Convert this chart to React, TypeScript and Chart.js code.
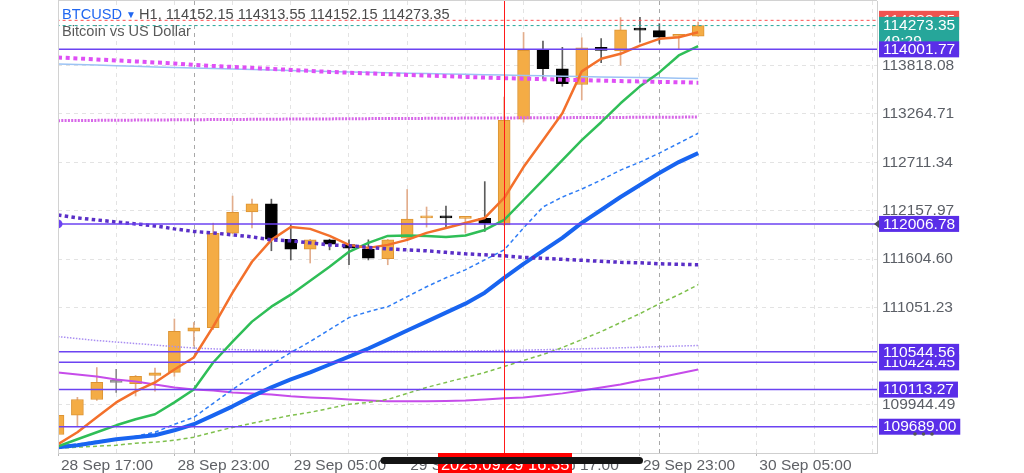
import React, { useEffect, useRef } from 'react';
import { Chart, registerables } from 'chart.js';

Chart.register(...registerables);

const FONT = '"Liberation Sans", Arial, Helvetica, sans-serif';

// H1 bars, 28 Sep 17:00 -> 30 Sep 02:00
const barOpen = [109600, 109820, 110000, 110195, 110180, 110275, 110310, 110780, 110820, 111900, 112145, 112235, 111830, 111718, 111825, 111770, 111720, 111610, 111845, 112075, 112080, 112070, 112070, 111995, 113205, 113995, 113780, 113600, 114025, 113985, 114225, 114215, 114150, 114152.15];
const barHigh = [109830, 110025, 110365, 110345, 110275, 110360, 110920, 110880, 112015, 112325, 112290, 112290, 112000, 111830, 111832, 111825, 111825, 111830, 112400, 112200, 112210, 112080, 112490, 113457, 114195, 114095, 114025, 114135, 114125, 114365, 114368, 114295, 114170, 114313.55];
const barLow = [109590, 109695, 109990, 110080, 110040, 110095, 110265, 110610, 110800, 111895, 111960, 111700, 111595, 111560, 111710, 111540, 111595, 111540, 111825, 111970, 111975, 111905, 111920, 111990, 113170, 113665, 113580, 113425, 113850, 113820, 114085, 114070, 114010, 114152.15];
const barClose = [109820, 110000, 110195, 110195, 110265, 110305, 110780, 110818, 111900, 112140, 112235, 111832, 111718, 111825, 111775, 111730, 111615, 111825, 112063, 112080, 112075, 112075, 112012, 113190, 113990, 113780, 113610, 114020, 113990, 114225, 114222, 114140, 114155, 114273.35];

// indicators
const emaOrange = [109489, 109626, 109796, 109967, 110093, 110195, 110343, 110480, 110833, 111221, 111574, 111824, 111972, 111950, 111870, 111767, 111733, 111767, 111824, 111904, 111961, 112018, 112075, 112303, 112656, 112964, 113271, 113750, 113894, 113951, 114045, 114122, 114140, 114197];
const emaGreen = [109466, 109546, 109626, 109705, 109774, 109831, 109967, 110115, 110423, 110662, 110890, 111061, 111198, 111357, 111517, 111688, 111790, 111870, 111875, 111870, 111858, 111875, 111938, 112052, 112280, 112508, 112736, 112964, 113169, 113385, 113579, 113738, 113932, 114038];
const maBlueDashed = [109466, 109489, 109523, 109546, 109580, 109626, 109717, 109796, 109956, 110115, 110264, 110400, 110537, 110662, 110799, 110936, 111004, 111061, 111175, 111289, 111391, 111482, 111596, 111710, 111961, 112200, 112314, 112405, 112508, 112622, 112713, 112816, 112929, 113043];
const maBlueThick = [109455, 109477, 109512, 109546, 109569, 109591, 109648, 109717, 109819, 109922, 110036, 110138, 110229, 110309, 110400, 110491, 110583, 110685, 110788, 110890, 110993, 111095, 111221, 111391, 111551, 111699, 111847, 112018, 112166, 112314, 112451, 112588, 112713, 112816];
const maGreenDashed = [109443, 109455, 109466, 109477, 109500, 109512, 109534, 109569, 109626, 109682, 109728, 109774, 109819, 109853, 109899, 109945, 109967, 110001, 110070, 110138, 110195, 110252, 110309, 110377, 110446, 110514, 110594, 110685, 110776, 110879, 110981, 111095, 111198, 111312];
const maMagenta = [110309, 110286, 110264, 110229, 110207, 110172, 110138, 110115, 110104, 110081, 110070, 110058, 110036, 110024, 110013, 110001, 109990, 109979, 109979, 109979, 109984, 109990, 110001, 110013, 110024, 110047, 110070, 110104, 110138, 110172, 110218, 110252, 110298, 110343];
const dotPurple = [112109, 112075, 112052, 112029, 112007, 111984, 111950, 111921, 111904, 111881, 111859, 111824, 111813, 111790, 111767, 111756, 111739, 111722, 111710, 111699, 111682, 111665, 111653, 111642, 111625, 111614, 111602, 111591, 111579, 111568, 111562, 111551, 111545, 111540];
const dotMagenta = [113909, 113898, 113886, 113875, 113864, 113852, 113841, 113824, 113812, 113801, 113790, 113778, 113767, 113755, 113744, 113735, 113727, 113718, 113710, 113702, 113695, 113687, 113679, 113672, 113667, 113661, 113655, 113649, 113645, 113639, 113635, 113630, 113626, 113621];
const maLightBlue = [113835, 113828, 113822, 113815, 113808, 113801, 113795, 113789, 113783, 113777, 113771, 113766, 113760, 113754, 113750, 113744, 113740, 113735, 113730, 113726, 113721, 113717, 113712, 113708, 113703, 113699, 113695, 113691, 113687, 113683, 113679, 113676, 113672, 113670];
const dotPink = [113187, 113188, 113190, 113192, 113193, 113195, 113196, 113198, 113199, 113200, 113202, 113203, 113205, 113206, 113207, 113208, 113210, 113211, 113212, 113213, 113215, 113216, 113217, 113218, 113219, 113220, 113221, 113222, 113223, 113224, 113225, 113226, 113227, 113228];
const dotLavender = [110719, 110696, 110674, 110657, 110640, 110622, 110605, 110588, 110579, 110571, 110565, 110560, 110556, 110553, 110551, 110548, 110548, 110548, 110548, 110551, 110552, 110554, 110557, 110560, 110564, 110569, 110573, 110579, 110585, 110591, 110597, 110604, 110611, 110617];

// horizontal levels
const levelPrices = [114001.77, 112006.78, 110424.45, 110544.56, 110113.27, 109689.0];
const askPrice = 114333.35;
const bidPrice = 114273.35;
const countdownText = '49:29';

// axes
const yTickValues = [109944.49, 111051.23, 111604.6, 112157.97, 112711.34, 113264.71, 113818.08];
const timeLabelBars = [0, 6, 12, 18, 24, 30, 36];
const timeLabels = ['28 Sep 17:00', '28 Sep 23:00', '29 Sep 05:00', '29 Sep 11:00', '29 Sep 17:00', '29 Sep 23:00', '30 Sep 05:00'];
const gridBars = [0, 3, 6, 9, 12, 15, 18, 21, 24, 27, 30, 33, 36, 39, 42];
const daySeparatorBars = [7, 31];
const crosshairBar = 23;
const crosshairLabel = '2025.09.29 16:35';

const titleSymbol = 'BTCUSD';
const titleInfo = 'H1, 114152.15 114313.55 114152.15 114273.35';
const titleDesc = 'Bitcoin vs US Dollar';

const X_MIN = 0;
const X_MAX = 42.22;
const Y_MIN = 109388.6;
const Y_MAX = 114554.3;

export default function App() {
  const ref = useRef<HTMLCanvasElement | null>(null);

  useEffect(() => {
    document.body.style.margin = '0';
    const canvas = ref.current;
    if (!canvas) return;
    const idx = barOpen.map((_, i) => i);
    const dir = (i: number) => (barClose[i] > barOpen[i] ? 1 : barClose[i] < barOpen[i] ? -1 : 0);
    const bodyFill = idx.map((i) => (dir(i) > 0 ? '#f4ac45' : dir(i) < 0 ? '#000000' : '#8c8c8c'));
    const bodyBorder = idx.map((i) => (dir(i) > 0 ? '#dd9433' : dir(i) < 0 ? '#000000' : '#8c8c8c'));
    const wickColor = idx.map((i) => (dir(i) > 0 ? '#e2ad8c' : dir(i) < 0 ? '#5c5c5c' : '#8c8c8c'));

    const series = (arr: number[]) => arr.map((v, i) => ({ x: i, y: v }));
    const level = (v: number) => [{ x: X_MIN - 1, y: v }, { x: X_MAX + 1, y: v }];

    const lineDs = (label: string, data: any[], color: string, width: number, dash: number[], order: number, extra: any = {}) => ({
      type: 'line',
      label,
      data,
      borderColor: color,
      backgroundColor: color,
      borderWidth: width,
      borderDash: dash,
      pointRadius: 0,
      tension: 0,
      fill: false,
      order,
      borderCapStyle: 'butt',
      borderJoinStyle: 'round',
      ...extra,
    });

    const datasets: any[] = [
      {
        type: 'bar',
        label: 'wicks',
        data: idx.map((i) => ({ x: i, y: [barLow[i], barHigh[i]] })),
        backgroundColor: wickColor,
        borderWidth: 0,
        barThickness: 1,
        grouped: false,
        order: 60,
      },
      {
        type: 'bar',
        label: 'bodies',
        data: idx.map((i) => ({ x: i, y: [barOpen[i], barClose[i]] })),
        backgroundColor: bodyFill,
        borderColor: bodyBorder,
        borderWidth: 1,
        borderSkipped: false,
        barThickness: 12,
        minBarLength: 2,
        grouped: false,
        order: 55,
      },
      lineDs('lavender dotted', series(dotLavender), '#a98ef2', 1.5, [1.5, 1.5], 30),
      lineDs('light blue', series(maLightBlue), '#9cc3f4', 1.5, [], 29),
      lineDs('pink dotted', series(dotPink), '#d767e8', 3, [2, 1.3], 28),
      lineDs('magenta', series(maMagenta), '#c64cea', 2, [], 27),
      lineDs('green dashed', series(maGreenDashed), '#7fc04d', 1.5, [4, 3], 26),
      lineDs('blue dashed', series(maBlueDashed), '#2f7df5', 1.5, [4, 3], 25),
      lineDs('blue thick', series(maBlueThick), '#1864f0', 4, [], 24),
      lineDs('green', series(emaGreen), '#2fbe57', 2.5, [], 23),
      lineDs('orange', series(emaOrange), '#f3702b', 2.5, [], 22),
      lineDs('purple dotted', series(dotPurple), '#5a2fc7', 3.5, [3.5, 3.3], 21),
      lineDs('magenta dotted', series(dotMagenta), '#df4ff5', 4, [4, 3.7], 20),
      lineDs('ask', level(askPrice), '#ff4f4f', 1, [3, 3], 12),
      lineDs('bid', level(bidPrice), '#26a69a', 1, [3, 3], 11),
      ...levelPrices.map((p, k) => lineDs('level ' + k, level(p), '#6c43f2', 1.5, [], 10)),
    ];

    const overlay = {
      id: 'overlay',
      beforeDatasetsDraw(chart: any) {
        const { ctx, chartArea: a, scales } = chart;
        ctx.save();
        ctx.strokeStyle = '#a8a8a8';
        ctx.lineWidth = 1;
        ctx.setLineDash([4, 4]);
        for (const d of daySeparatorBars) {
          const px = Math.round(scales.x.getPixelForValue(d)) + 0.5;
          ctx.beginPath();
          ctx.moveTo(px, a.top);
          ctx.lineTo(px, a.bottom);
          ctx.stroke();
        }
        ctx.restore();
      },
      afterDatasetsDraw(chart: any) {
        const { ctx, chartArea: a, scales } = chart;
        ctx.save();
        ctx.beginPath();
        ctx.rect(a.left, a.top, a.right - a.left, a.bottom - a.top);
        ctx.clip();
        ctx.fillStyle = '#6c43f2';
        ctx.beginPath();
        ctx.arc(a.left, scales.y.getPixelForValue(levelPrices[1]), 4.5, 0, Math.PI * 2);
        ctx.fill();
        ctx.restore();

        ctx.save();
        const cx = Math.round(scales.x.getPixelForValue(crosshairBar)) + 0.5;
        ctx.strokeStyle = '#ff1a1a';
        ctx.lineWidth = 1;
        ctx.beginPath();
        ctx.moveTo(cx, 0);
        ctx.lineTo(cx, a.bottom);
        ctx.stroke();
        ctx.strokeStyle = '#d2d2d2';
        ctx.beginPath();
        ctx.moveTo(Math.round(a.left) + 0.5, a.top);
        ctx.lineTo(Math.round(a.left) + 0.5, a.bottom);
        ctx.moveTo(a.left, 0.5);
        ctx.lineTo(a.right, 0.5);
        ctx.stroke();
        ctx.restore();
      },
      afterDraw(chart: any) {
        const { ctx, scales } = chart;
        const y = scales.y;
        ctx.save();
        ctx.textBaseline = 'alphabetic';
        ctx.textAlign = 'left';
        ctx.font = `14.6px ${FONT}`;
        ctx.fillStyle = '#2167f0';
        ctx.fillText(titleSymbol, 62, 18.5);
        ctx.font = `10px ${FONT}`;
        ctx.fillText('\u25BC', 126, 17.5);
        ctx.font = `14.6px ${FONT}`;
        ctx.fillStyle = '#4a4a4a';
        ctx.fillText(titleInfo, 139, 18.5);
        ctx.fillStyle = '#5a5a5a';
        ctx.fillText(titleDesc, 62, 36);

        const boxFont = `15.5px ${FONT}`;
        ctx.font = boxFont;
        const box = (cy: number, text: string, bg: string, h = 16, pad = 4) => {
          const w = ctx.measureText(text).width + pad * 2;
          ctx.fillStyle = bg;
          ctx.fillRect(879, cy - h / 2, w, h);
          ctx.fillStyle = '#ffffff';
          ctx.textBaseline = 'middle';
          ctx.fillText(text, 879 + pad, cy + 0.5);
        };
        const askY = y.getPixelForValue(askPrice);
        box(askY, askPrice.toFixed(2), '#ef5350', 19);
        const bidY = y.getPixelForValue(bidPrice);
        const bw = ctx.measureText(bidPrice.toFixed(2)).width + 8;
        ctx.fillStyle = '#26a69a';
        ctx.fillRect(879, bidY - 8.7, bw, 38);
        ctx.fillStyle = '#ffffff';
        ctx.textBaseline = 'middle';
        ctx.fillText(bidPrice.toFixed(2), 883, bidY + 0.5);
        ctx.fillText(countdownText, 883, bidY + 16);
        for (const p of levelPrices) {
          box(y.getPixelForValue(p), p.toFixed(2), '#5a2ee8');
        }
        const py = y.getPixelForValue(levelPrices[1]);
        ctx.fillStyle = '#4a4a5a';
        ctx.beginPath();
        ctx.moveTo(874, py);
        ctx.lineTo(879, py - 4);
        ctx.lineTo(879, py + 4);
        ctx.closePath();
        ctx.fill();
        ctx.fillStyle = '#555555';
        for (const dx of [915, 923.5, 932]) {
          ctx.beginPath();
          ctx.arc(dx, 434, 1.8, 0, Math.PI * 2);
          ctx.fill();
        }

        const cx = scales.x.getPixelForValue(crosshairBar);
        ctx.fillStyle = '#ff0000';
        ctx.fillRect(438, 453, 134, 20);
        ctx.fillStyle = '#ffffff';
        ctx.font = `16.5px ${FONT}`;
        ctx.textAlign = 'center';
        ctx.textBaseline = 'middle';
        ctx.fillText(crosshairLabel, cx + 1, 465);
        ctx.strokeStyle = '#141414';
        ctx.lineWidth = 7;
        ctx.lineCap = 'round';
        ctx.beginPath();
        ctx.moveTo(384, 460.5);
        ctx.lineTo(639.5, 460.5);
        ctx.stroke();
        ctx.restore();
      },
    };

    const chart = new Chart(canvas, {
      type: 'bar',
      data: { datasets },
      options: {
        animation: false,
        responsive: false,
        maintainAspectRatio: false,
        devicePixelRatio: 1,
        events: [],
        layout: { padding: { left: 58, top: 1, right: 0, bottom: 0 } },
        plugins: { legend: { display: false }, tooltip: { enabled: false }, title: { display: false } },
        scales: {
          x: {
            type: 'linear',
            position: 'bottom',
            min: X_MIN,
            max: X_MAX,
            offset: false,
            afterFit: (s: any) => {
              s.height = 20;
              s.paddingLeft = 0;
              s.paddingRight = 0;
            },
            afterBuildTicks: (s: any) => {
              s.ticks = gridBars.map((v) => ({ value: v }));
            },
            ticks: {
              autoSkip: false,
              maxRotation: 0,
              minRotation: 0,
              align: 'start',
              labelOffset: 3,
              padding: 0,
              color: '#5f6166',
              font: { size: 15.5, family: FONT },
              callback: (v: any) => {
                const k = timeLabelBars.indexOf(Number(v));
                return k >= 0 ? timeLabels[k] : '';
              },
            },
            grid: {
              offset: false,
              color: '#e3e3e3',
              lineWidth: 1,
              drawTicks: true,
              tickLength: 3,
              tickBorderDash: [],
              tickColor: (c: any) => (c.tick && timeLabelBars.includes(c.tick.value) ? '#b9b9b9' : 'rgba(0,0,0,0)'),
            },
            border: { display: true, color: '#cfcfcf', width: 1, dash: [4, 4] },
          },
          y: {
            type: 'linear',
            position: 'right',
            min: Y_MIN,
            max: Y_MAX,
            afterFit: (s: any) => {
              s.width = 147;
              s.paddingTop = 0;
              s.paddingBottom = 0;
            },
            afterBuildTicks: (s: any) => {
              s.ticks = yTickValues.map((v) => ({ value: v }));
            },
            ticks: {
              padding: 5,
              crossAlign: 'near',
              color: '#5b5f66',
              font: { size: 15.5, family: FONT },
              callback: (v: any) => Number(v).toFixed(2),
            },
            grid: { color: '#e3e3e3', lineWidth: 1, drawTicks: false },
            border: { display: true, color: '#cfcfcf', width: 1, dash: [4, 4] },
          },
        },
      } as any,
      plugins: [overlay as any],
    });

    return () => {
      chart.destroy();
    };
  }, []);

  return (
    <div style={{ position: 'relative', width: 1024, height: 473, background: '#ffffff' }}>
      <canvas ref={ref} width={1024} height={473} style={{ display: 'block', width: 1024, height: 473 }} />
    </div>
  );
}
